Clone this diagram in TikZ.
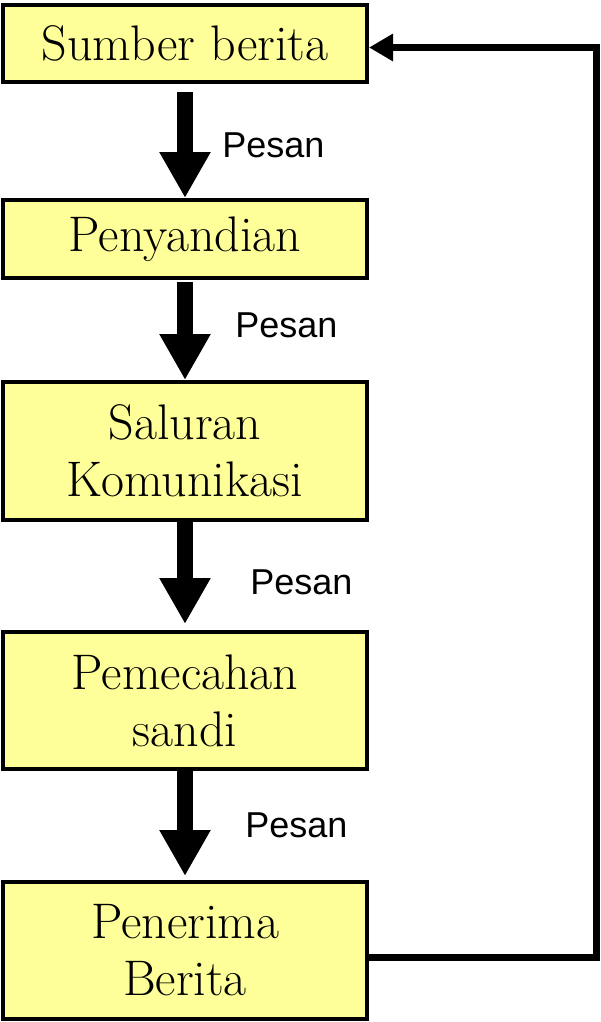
\documentclass[tikz,border=0pt]{standalone}
\usepackage{fontspec}
\newfontfamily\pesanfont{Liberation Sans}
\usetikzlibrary{arrows.meta}
\definecolor{boxyellow}{RGB}{255,255,153}
\begin{document}
\begin{tikzpicture}
[x=0.5pt,y=-0.5pt,
 box/.style={draw,fill=boxyellow,line width=2pt,minimum width=182pt,inner sep=0pt,align=center,font=\fontsize{25}{28.5}\selectfont},
 pesan/.style={anchor=west,inner sep=0pt,font=\pesanfont\fontsize{18}{20}\selectfont},
 flow/.style={line width=8pt,-{Triangle[width=24pt,length=23pt]}},
 back/.style={line width=3.2pt,-{Triangle[width=13pt,length=12pt]}}]
    \useasboundingbox (0,0) rectangle (600,1022);
    \node[box,minimum height=38.5pt] (src) at (185,43.5) {Sumber berita};
    \node[box,minimum height=39pt] (enc) at (185,239) {Penyandian};
    \node[box,minimum height=69pt] (chan) at (185,451) {Saluran\\Komunikasi};
    \node[box,minimum height=68.5pt] (dec) at (185,700.5) {Pemecahan\\sandi};
    \node[box,minimum height=68.5pt] (recv) at (185,950.5) {Penerima\\Berita};
    \draw[flow] ([yshift=-4pt]src.south) -- (enc.north);
    \draw[flow] ([yshift=-1pt]enc.south) -- (chan.north);
    \draw[flow] (chan.south) -- ([yshift=3pt]dec.north);
    \draw[flow] (dec.south) -- ([yshift=2pt]recv.north);
    \node[pesan] (p1) at (222,145) {Pesan};
    \node[pesan] (p2) at (235,325) {Pesan};
    \node[pesan] (p3) at (250,582) {Pesan};
    \node[pesan] (p4) at (245,825) {Pesan};
    \coordinate (corner) at (596.5,957.5);
    \draw[back] (recv.east |- corner) -- (corner) |- ([yshift=-2pt]src.east);
\end{tikzpicture}
\end{document}
